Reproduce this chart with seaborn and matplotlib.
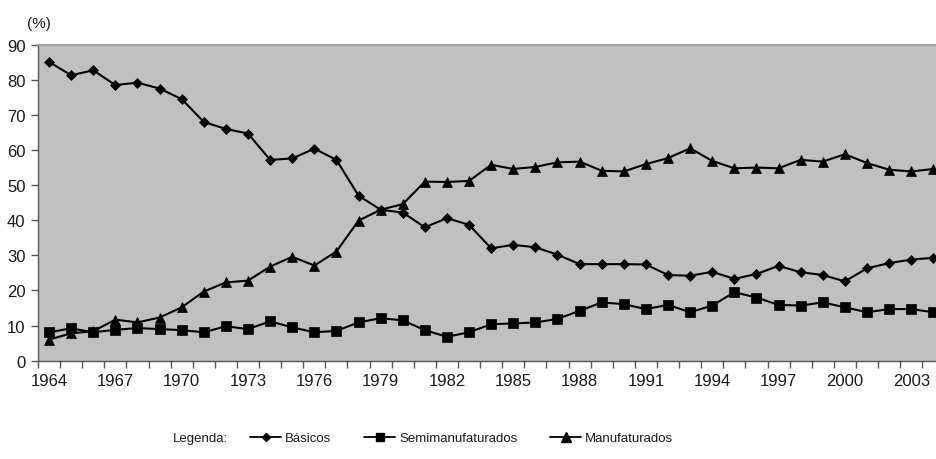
import matplotlib
matplotlib.use('Agg')
import matplotlib.pyplot as plt
import numpy as np
import pandas as pd
import seaborn as sns
from matplotlib.lines import Line2D

# Dados (% da pauta de exportações)
anos = list(range(1964, 2005))
basicos = [85.1, 81.3, 82.7, 78.5, 79.2, 77.5, 74.5, 68.0, 66.0, 64.7,
           57.2, 57.6, 60.4, 57.2, 47.0, 43.0, 42.2, 38.0, 40.6, 38.7,
           32.0, 33.0, 32.3, 30.2, 27.5, 27.5, 27.5, 27.4, 24.4, 24.2,
           25.3, 23.3, 24.7, 27.0, 25.2, 24.4, 22.6, 26.3, 27.8, 28.8, 29.3]
semimanufaturados = [8.1, 9.2, 8.1, 8.8, 9.3, 9.0, 8.7, 8.1, 9.8, 9.0,
                     11.2, 9.5, 8.1, 8.5, 10.9, 12.1, 11.5, 8.7, 6.8, 8.1,
                     10.4, 10.6, 10.9, 11.9, 14.2, 16.6, 16.1, 14.7, 15.9, 13.8,
                     15.7, 19.5, 18.0, 15.9, 15.7, 16.6, 15.2, 13.8, 14.7, 14.7, 13.8]
manufaturados = [6.0, 7.8, 8.4, 11.7, 10.9, 12.3, 15.2, 19.7, 22.3, 22.8,
                 26.8, 29.6, 27.1, 31.1, 39.9, 43.0, 44.6, 51.0, 50.9, 51.2,
                 55.8, 54.6, 55.2, 56.5, 56.7, 54.1, 53.9, 56.0, 57.7, 60.5,
                 56.9, 54.8, 55.0, 54.8, 57.2, 56.7, 58.8, 56.3, 54.4, 53.9, 54.6]
anos_rotulo = list(range(1964, 2004, 3))

grupos = ['Básicos', 'Semimanufaturados', 'Manufaturados']
marcadores = {'Básicos': 'D', 'Semimanufaturados': 's', 'Manufaturados': '^'}
tamanhos = {'Básicos': 5.3, 'Semimanufaturados': 6.8, 'Manufaturados': 7.8}

df = pd.DataFrame({'Ano': anos, 'Básicos': basicos,
                   'Semimanufaturados': semimanufaturados,
                   'Manufaturados': manufaturados})

sns.set_style('white')
plt.rcParams['font.family'] = ['Liberation Sans', 'DejaVu Sans']

fig = plt.figure(figsize=(9.36, 4.6), dpi=100)
ax = fig.add_axes([38 / 936, 1 - 361.7 / 460, 1 - 38 / 936, 316 / 460])
ax.set_facecolor('#c0c0c0')

for g in grupos:
    sns.lineplot(data=df, x='Ano', y=g, ax=ax, color='black', linewidth=1.5,
                 marker=marcadores[g], markersize=tamanhos[g],
                 markeredgecolor='black', markeredgewidth=0.5)

ax.set_xlim(1963.5, 1964 + (936 - 49.3) / 22.1)
ax.set_ylim(0, 90)
ax.set_yticks(range(0, 91, 10))
ax.set_xticks(anos_rotulo)
ax.set_xticks(np.arange(1963.5, 2004.5, 1), minor=True)
ax.set_xlabel('')
ax.set_ylabel('')

ax.tick_params(axis='y', direction='out', length=5, width=1, color='#555555',
               labelsize=12, pad=4, labelcolor='#1a1a1a', left=True)
ax.tick_params(axis='x', which='major', length=0, labelsize=12, pad=9,
               labelcolor='#1a1a1a')
ax.tick_params(axis='x', which='minor', direction='out', length=5, width=1,
               color='#555555', bottom=True)

for lado in ['left', 'bottom']:
    ax.spines[lado].set_color('#555555')
    ax.spines[lado].set_linewidth(1)
ax.spines['top'].set_color('#a0a0a0')
ax.spines['top'].set_linewidth(1.5)
ax.spines['right'].set_visible(False)

fig.text(27 / 936, 1 - 24 / 460, '(%)', fontsize=11, color='#1a1a1a',
         ha='left', va='center')

# Legenda
fig.text(173 / 936, 1 - 439 / 460, 'Legenda:', fontsize=9.5, color='#1a1a1a',
         ha='left', va='center')
handles = [Line2D([0], [0], color='black', linewidth=1.3, marker=marcadores[g],
                  markersize=tamanhos[g] * 0.85, markeredgecolor='black')
           for g in grupos]
fig.legend(handles, grupos, loc='center left', bbox_to_anchor=(250 / 936, 1 - 439 / 460),
           ncol=3, frameon=False, fontsize=9.5, handlelength=2.35,
           handletextpad=0.3, columnspacing=2.5, borderpad=0, borderaxespad=0,
           labelcolor='#1a1a1a')

fig.savefig('out.png', dpi=100)
